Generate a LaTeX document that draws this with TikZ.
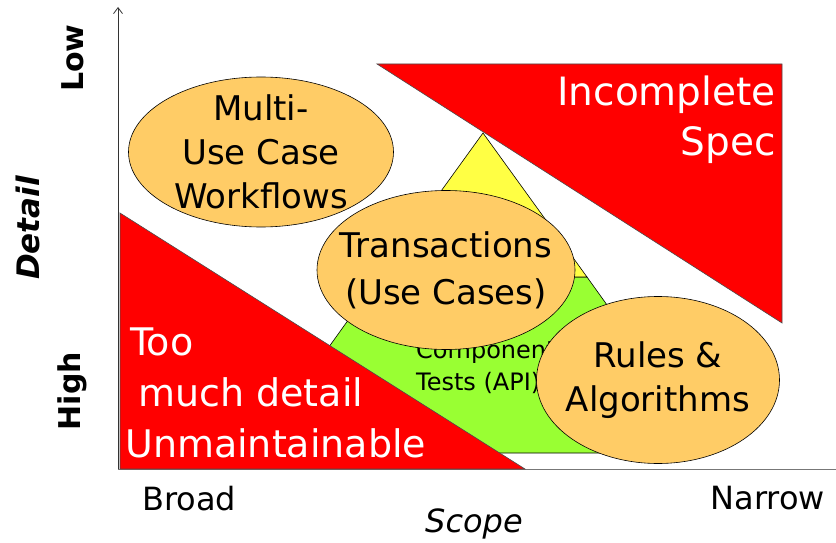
\documentclass[tikz,border=0pt]{standalone}
\usepackage{fontspec}
\setmainfont{DejaVu Sans}
\usetikzlibrary{arrows.meta, shapes.geometric}
\definecolor{alarmred}{HTML}{FF0000}
\definecolor{oval}{HTML}{FFCC66}
\definecolor{apexyellow}{HTML}{FFFF44}
\definecolor{apigreen}{HTML}{99FF33}
\definecolor{axisgray}{HTML}{777777}

\begin{document}
\begin{tikzpicture}[
  x=1pt, y=-1pt,
  >={Straight Barb[length=6pt, width=9pt]},
  bubble/.style={
    ellipse, draw=black, line width=0.6pt, fill=oval, inner sep=-20pt,
    align=center, text=black
  },
  warn/.style={fill=alarmred, draw=black!70, line width=0.6pt},
  warntext/.style={text=white, font=\fontsize{39}{50}\selectfont, inner sep=0pt},
  axlbl/.style={font=\fontsize{32}{38}\selectfont, inner sep=0pt},
  detlbl/.style={font=\fontsize{30}{36}\selectfont\bfseries, inner sep=0pt, rotate=90},
]

\useasboundingbox (0,0) rectangle (836,543);

% =============================================
% Axes
% =============================================
\coordinate (origin) at (118,469);
\coordinate (ytop) at (118,7);
\coordinate (xend) at (836,469);

\draw[axisgray, line width=1pt] (origin) -- (xend);
\draw[->, black!80, line width=0.8pt] (origin) -- (ytop);

\node[detlbl] (low) at (73,58) {Low};
\node[detlbl] (high) at (72,391) {High};
\node[detlbl, font=\fontsize{31}{36}\selectfont\bfseries\itshape] (detail) at (28,228) {Detail};

\node[axlbl, anchor=base west] (broad) at (142,510) {Broad};
\node[axlbl, anchor=base east] (narrow) at (825,509) {Narrow};
\node[axlbl, anchor=base west, font=\fontsize{32}{38}\selectfont\itshape] (scope) at (425,532) {Scope};

% =============================================
% Test pyramid
% =============================================
\draw[fill=apigreen, line width=0.6pt] (253,453) -- (713,453) -- (587,277) -- (379,277) -- cycle;
\draw[fill=apexyellow, line width=0.6pt] (379,277) -- (587,277) -- (483,133) -- cycle;

% base anchor = baseline of the last line
\node[anchor=base west, align=left, inner sep=0pt,
      font=\fontsize{24}{32}\selectfont] (api) at (416,390)
  {Component\\Tests (API)};

% =============================================
% Red zones
% =============================================
\draw[warn] (120,213) -- (120,469) -- (525,469) -- cycle;
\node[warntext, anchor=base west, align=left,
      font=\fontsize{38}{51}\selectfont] (toomuch) at (125,457)
  {\hspace*{5pt}Too\\\hspace*{13pt}much detail\\Unmaintainable};

\draw[warn] (377,64) -- (782,64) -- (782,323) -- cycle;
\node[warntext, anchor=base east, align=right] (incomplete) at (776,155)
  {Incomplete\\Spec};

% =============================================
% Test scopes
% =============================================
\node[bubble, minimum width=265pt, minimum height=150pt,
      font=\fontsize{34}{44}\selectfont] (workflows) at (261,152)
  {Multi-\\Use Case\\Workflows};

\node[bubble, minimum width=258pt, minimum height=159pt,
      font=\fontsize{34}{47}\selectfont] (transactions) at (446,270)
  {Transactions\\(Use Cases)};

\node[bubble, minimum width=243pt, minimum height=167pt,
      font=\fontsize{34}{44}\selectfont] (rules) at (658,380)
  {Rules \&\\Algorithms};

\end{tikzpicture}
\end{document}
